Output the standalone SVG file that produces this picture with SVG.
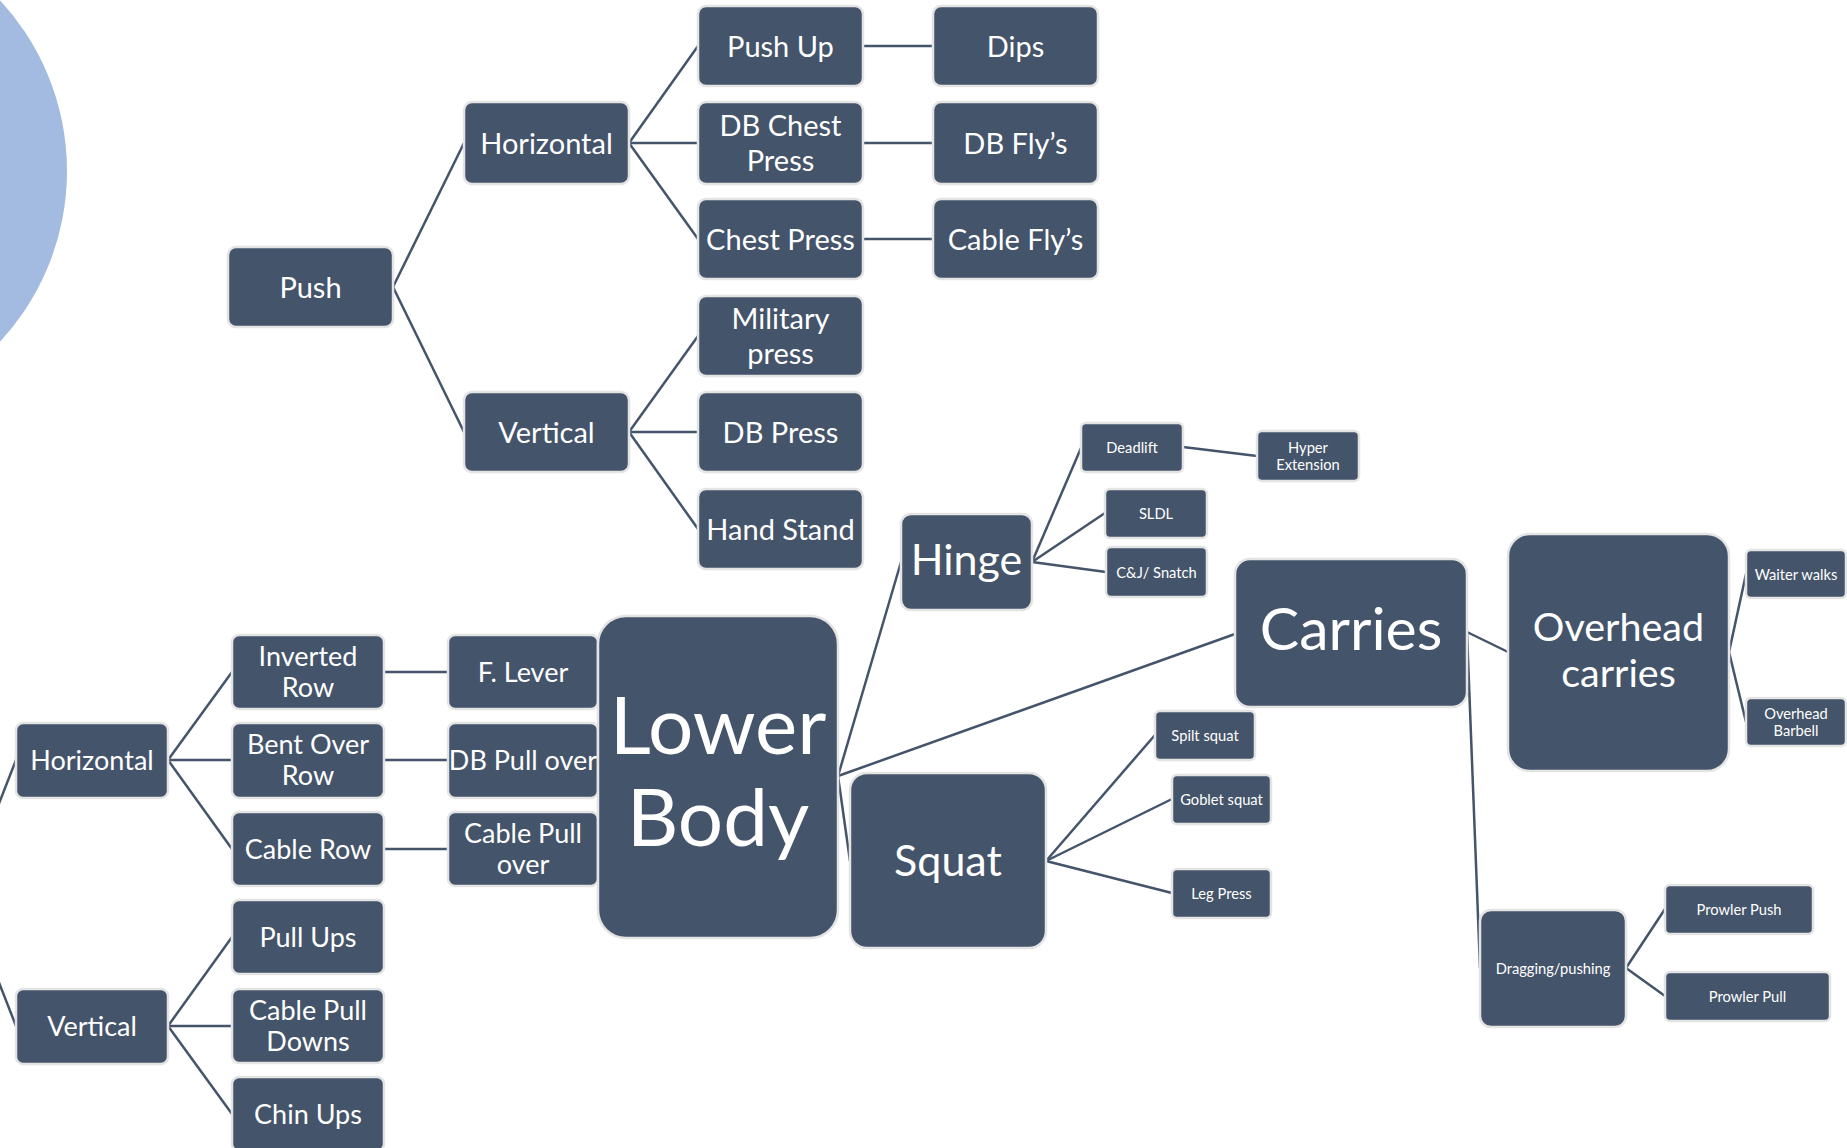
<svg xmlns="http://www.w3.org/2000/svg" width="1847" height="1148" viewBox="0 0 1847 1148">
<style>
.n rect{fill:#44546A;stroke:#E4E4E4;stroke-width:2.5}
text{fill:#FFFFFF;font-family:Lato,"Open Sans","Liberation Sans",sans-serif;text-anchor:middle}
.m{font-size:29px}
.l{font-size:27px}
.s{font-size:14.7px}
#conn line{stroke:#44546A;stroke-width:2.5}
</style>
<rect width="1847" height="1148" fill="#FFFFFF"/>
<circle cx="-184" cy="171" r="251" fill="#A4BBE1"/>
<g id="conn">
<line x1="393" y1="287" x2="464" y2="143"/>
<line x1="393" y1="287" x2="464" y2="432"/>
<line x1="629" y1="143" x2="698" y2="46"/>
<line x1="629" y1="143" x2="698" y2="143"/>
<line x1="629" y1="143" x2="698" y2="239"/>
<line x1="629" y1="432" x2="698" y2="336"/>
<line x1="629" y1="432" x2="698" y2="432"/>
<line x1="629" y1="432" x2="698" y2="529"/>
<line x1="863" y1="46" x2="933" y2="46"/>
<line x1="863" y1="143" x2="933" y2="143"/>
<line x1="863" y1="239" x2="933" y2="239"/>
<line x1="-36" y1="893" x2="16" y2="760"/>
<line x1="-36" y1="893" x2="16" y2="1026"/>
<line x1="168" y1="760" x2="232" y2="672"/>
<line x1="168" y1="760" x2="232" y2="760"/>
<line x1="168" y1="760" x2="232" y2="849"/>
<line x1="168" y1="1026" x2="232" y2="937"/>
<line x1="168" y1="1026" x2="232" y2="1026"/>
<line x1="168" y1="1026" x2="232" y2="1114"/>
<line x1="384" y1="672" x2="448" y2="672"/>
<line x1="384" y1="760" x2="448" y2="760"/>
<line x1="384" y1="849" x2="448" y2="849"/>
<line x1="838" y1="776" x2="901" y2="562"/>
<line x1="838" y1="776" x2="1235" y2="634"/>
<line x1="838" y1="776" x2="850" y2="861"/>
<line x1="1032" y1="562" x2="1081" y2="448"/>
<line x1="1032" y1="562" x2="1105" y2="513"/>
<line x1="1032" y1="562" x2="1106" y2="572"/>
<line x1="1183" y1="447" x2="1257" y2="456"/>
<line x1="1046" y1="861" x2="1155" y2="735"/>
<line x1="1046" y1="861" x2="1172" y2="799"/>
<line x1="1046" y1="861" x2="1172" y2="893"/>
<line x1="1467" y1="632" x2="1508" y2="652"/>
<line x1="1467" y1="632" x2="1480" y2="968"/>
<line x1="1729" y1="652" x2="1746" y2="574"/>
<line x1="1729" y1="652" x2="1746" y2="722"/>
<line x1="1626" y1="968" x2="1665" y2="909"/>
<line x1="1626" y1="968" x2="1665" y2="996"/>
</g>
<g id="push" class="n"><rect x="228" y="247" width="165" height="80" rx="8"/><text class="m" x="310.5" y="297.5">Push</text></g>
<g id="push-horizontal" class="n"><rect x="464" y="102" width="165" height="82" rx="8"/><text class="m" x="546.5" y="153.5">Horizontal</text></g>
<g id="push-vertical" class="n"><rect x="464" y="392" width="165" height="80" rx="8"/><text class="m" x="546.5" y="442.5">Vertical</text></g>
<g id="push-up" class="n"><rect x="698" y="6" width="165" height="80" rx="8"/><text class="m" x="780.5" y="56.5">Push Up</text></g>
<g id="db-chest-press" class="n"><rect x="698" y="102" width="165" height="82" rx="8"/><text class="m" x="780.5" y="136">DB Chest</text><text class="m" x="780.5" y="171">Press</text></g>
<g id="chest-press" class="n"><rect x="698" y="199" width="165" height="80" rx="8"/><text class="m" x="780.5" y="249.5">Chest Press</text></g>
<g id="military-press" class="n"><rect x="698" y="296" width="165" height="80" rx="8"/><text class="m" x="780.5" y="329">Military</text><text class="m" x="780.5" y="364">press</text></g>
<g id="db-press" class="n"><rect x="698" y="392" width="165" height="80" rx="8"/><text class="m" x="780.5" y="442.5">DB Press</text></g>
<g id="hand-stand" class="n"><rect x="698" y="489" width="165" height="80" rx="8"/><text class="m" x="780.5" y="539.5">Hand Stand</text></g>
<g id="dips" class="n"><rect x="933" y="6" width="165" height="80" rx="8"/><text class="m" x="1015.5" y="56.5">Dips</text></g>
<g id="db-flys" class="n"><rect x="933" y="102" width="165" height="82" rx="8"/><text class="m" x="1015.5" y="153.5">DB Fly’s</text></g>
<g id="cable-flys" class="n"><rect x="933" y="199" width="165" height="80" rx="8"/><text class="m" x="1015.5" y="249.5">Cable Fly’s</text></g>
<g id="pull-horizontal" class="n"><rect x="16" y="723" width="152" height="75" rx="7"/><text class="l" x="92" y="770">Horizontal</text></g>
<g id="pull-vertical" class="n"><rect x="16" y="989" width="152" height="75" rx="7"/><text class="l" x="92" y="1036">Vertical</text></g>
<g id="inverted-row" class="n"><rect x="232" y="635" width="152" height="74" rx="7"/><text class="l" x="308" y="666">Inverted</text><text class="l" x="308" y="697">Row</text></g>
<g id="bent-over-row" class="n"><rect x="232" y="723" width="152" height="75" rx="7"/><text class="l" x="308" y="754">Bent Over</text><text class="l" x="308" y="785">Row</text></g>
<g id="cable-row" class="n"><rect x="232" y="812" width="152" height="74" rx="7"/><text class="l" x="308" y="858.5">Cable Row</text></g>
<g id="pull-ups" class="n"><rect x="232" y="900" width="152" height="74" rx="7"/><text class="l" x="308" y="946.5">Pull Ups</text></g>
<g id="cable-pull-downs" class="n"><rect x="232" y="989" width="152" height="74" rx="7"/><text class="l" x="308" y="1020">Cable Pull</text><text class="l" x="308" y="1051">Downs</text></g>
<g id="chin-ups" class="n"><rect x="232" y="1077" width="152" height="74" rx="7"/><text class="l" x="308" y="1123.5">Chin Ups</text></g>
<g id="f-lever" class="n"><rect x="448" y="635" width="150" height="74" rx="7"/><text class="l" x="523" y="681.5">F. Lever</text></g>
<g id="db-pull-over" class="n"><rect x="448" y="723" width="150" height="75" rx="7"/><text class="l" x="523" y="770">DB Pull over</text></g>
<g id="cable-pull-over" class="n"><rect x="448" y="812" width="150" height="74" rx="7"/><text class="l" x="523" y="843">Cable Pull</text><text class="l" x="523" y="874">over</text></g>
<g id="lower-body" class="n"><rect x="598" y="616" width="240" height="322" rx="28"/><text x="718" y="754" font-size="80">Lower</text><text x="718" y="846" font-size="80">Body</text></g>
<g id="hinge" class="n"><rect x="901" y="514" width="131" height="96" rx="10"/><text x="966.5" y="575" font-size="43">Hinge</text></g>
<g id="squat" class="n"><rect x="850" y="773" width="196" height="175" rx="17"/><text x="948" y="876" font-size="43">Squat</text></g>
<g id="deadlift" class="n"><rect x="1081" y="423" width="102" height="49" rx="5"/><text class="s" x="1132" y="453">Deadlift</text></g>
<g id="hyper-extension" class="n"><rect x="1257" y="431" width="102" height="50" rx="5"/><text class="s" x="1308" y="453">Hyper</text><text class="s" x="1308" y="469.5">Extension</text></g>
<g id="sldl" class="n"><rect x="1105" y="489" width="102" height="49" rx="5"/><text class="s" x="1156" y="519">SLDL</text></g>
<g id="cj-snatch" class="n"><rect x="1106" y="547" width="101" height="50" rx="5"/><text class="s" x="1156.5" y="577.5">C&amp;J/ Snatch</text></g>
<g id="spilt-squat" class="n"><rect x="1155" y="711" width="100" height="49" rx="5"/><text class="s" x="1205" y="741">Spilt squat</text></g>
<g id="goblet-squat" class="n"><rect x="1172" y="775" width="99" height="49" rx="5"/><text class="s" x="1221.5" y="805">Goblet squat</text></g>
<g id="leg-press" class="n"><rect x="1172" y="869" width="99" height="49" rx="5"/><text class="s" x="1221.5" y="899">Leg Press</text></g>
<g id="carries" class="n"><rect x="1235" y="559" width="232" height="148" rx="15"/><text x="1351" y="650" font-size="59">Carries</text></g>
<g id="overhead-carries" class="n"><rect x="1508" y="534" width="221" height="237" rx="22"/><text x="1618.5" y="641" font-size="39.5">Overhead</text><text x="1618.5" y="687" font-size="39.5">carries</text></g>
<g id="waiter-walks" class="n"><rect x="1746" y="550" width="100" height="48" rx="5"/><text class="s" x="1796" y="579.5">Waiter walks</text></g>
<g id="overhead-barbell" class="n"><rect x="1746" y="698" width="100" height="48" rx="5"/><text class="s" x="1796" y="719">Overhead</text><text class="s" x="1796" y="735.5">Barbell</text></g>
<g id="dragging-pushing" class="n"><rect x="1480" y="910" width="146" height="117" rx="11"/><text class="s" x="1553" y="973.5">Dragging/pushing</text></g>
<g id="prowler-push" class="n"><rect x="1665" y="885" width="148" height="49" rx="5"/><text class="s" x="1739" y="914.5">Prowler Push</text></g>
<g id="prowler-pull" class="n"><rect x="1665" y="972" width="165" height="49" rx="5"/><text class="s" x="1747.5" y="1001.5">Prowler Pull</text></g>
</svg>
